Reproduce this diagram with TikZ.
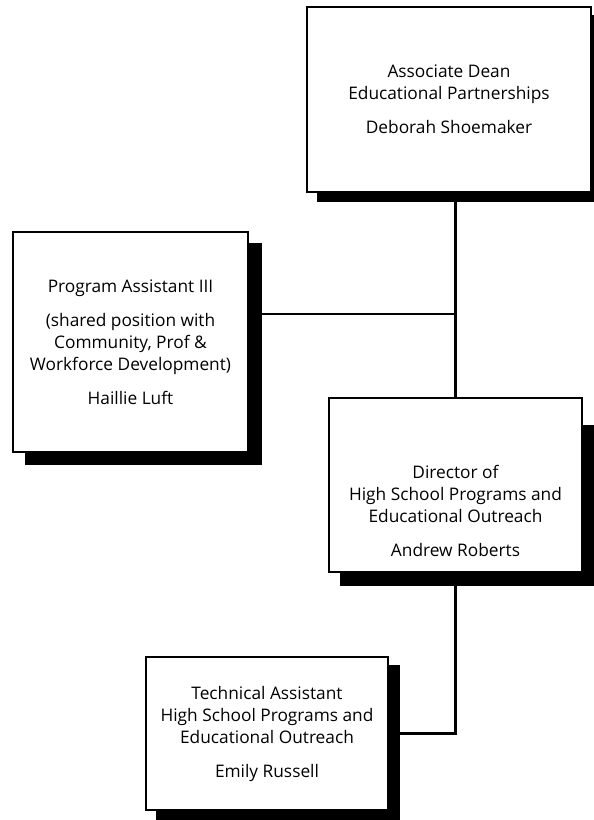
\documentclass[tikz,border=0pt]{standalone}
\usepackage{fontspec}
\setmainfont{Open Sans}
\usetikzlibrary{backgrounds}

\tikzset{
  post/.style={draw, fill=white, line width=2.2pt, align=center,
    inner sep=0pt, font=\fontsize{17.3}{22}\selectfont},
  postlabel/.style={align=center, inner sep=0pt,
    font=\fontsize{17.3}{22}\selectfont},
  link/.style={line width=2.2pt},
  shade/.style={fill=black},
}

\begin{document}
\begin{tikzpicture}[x=1pt,y=-1pt]
  \useasboundingbox (0,0) rectangle (594,820);

  % boxes
  \node[post, minimum width=284pt, minimum height=185pt] (dean) at (449,99.5)
    {Associate Dean\\Educational Partnerships\\[12pt]Deborah Shoemaker};
  \node[post, minimum width=235pt, minimum height=220pt] (assist) at (130.5,342)
    {Program Assistant III\\[12pt](shared position with\\Community, Prof \&\\Workforce Development)\\[12pt]Haillie Luft};
  \node[post, minimum width=253pt, minimum height=174pt] (dir) at (455.5,485) {};
  \node[postlabel] (dirtext) at ([yshift=-26pt]dir.center)
    {Director of\\High School Programs and\\Educational Outreach\\[12pt]Andrew Roberts};
  \node[post, minimum width=242pt, minimum height=153pt] (tech) at (267,733.5)
    {Technical Assistant\\High School Programs and\\Educational Outreach\\[12pt]Emily Russell};

  % shadows
  \begin{scope}[on background layer]
    \fill[shade] ([shift={(11,9)}]dean.south west) rectangle ([shift={(11,9)}]dean.north east);
    \fill[shade] ([shift={(13,12)}]assist.south west) rectangle ([shift={(13,12)}]assist.north east);
    \fill[shade] ([shift={(12,13)}]dir.south west) rectangle ([shift={(12,28)}]dir.north east);
    \fill[shade] ([shift={(11,9)}]tech.south west) rectangle ([shift={(11,9)}]tech.north east);
  \end{scope}

  % connectors
  \draw[link] (dir.north) -- (dir.north |- dean.south);
  \coordinate (tee) at (dir.north |- 0,314);
  \draw[link] (tee) -- (tee -| assist.east);
  \draw[link] (dir.south) |- (tech.east);
\end{tikzpicture}
\end{document}
